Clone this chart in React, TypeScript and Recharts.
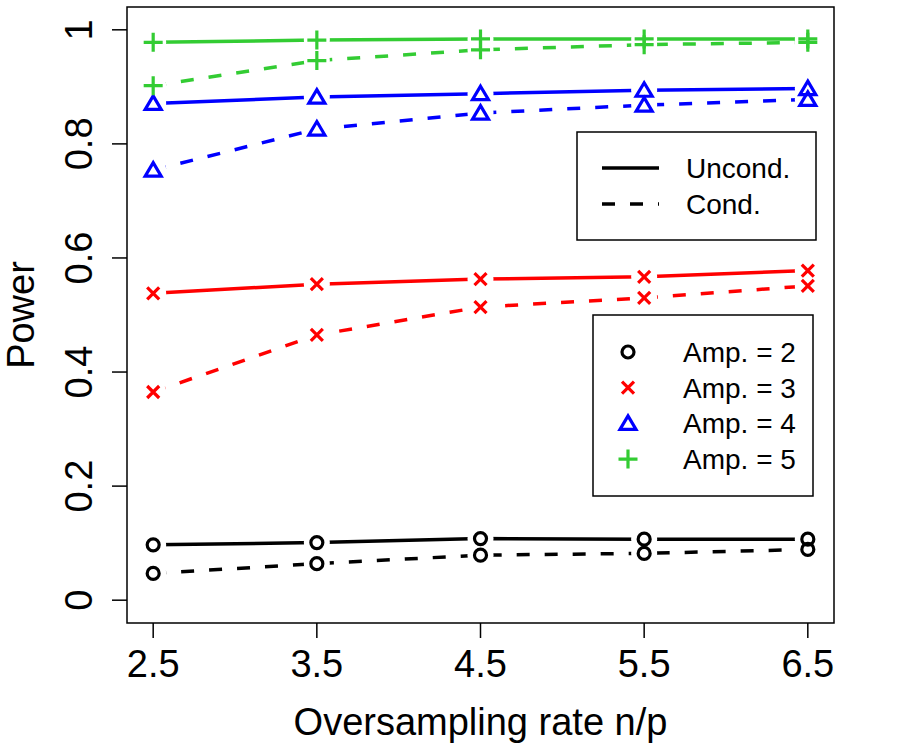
import { LineChart, Line, XAxis, YAxis, ReferenceArea, Label } from "recharts";

// oversampling rates n/p
const rates = [2.5, 3.5, 4.5, 5.5, 6.5];

// power by amplitude, unconditional and conditional tests
const uncond2 = [0.097, 0.101, 0.108, 0.107, 0.107];
const cond2 = [0.047, 0.064, 0.079, 0.082, 0.089];
const uncond3 = [0.538, 0.554, 0.563, 0.567, 0.578];
const cond3 = [0.365, 0.465, 0.514, 0.53, 0.551];
const uncond4 = [0.871, 0.882, 0.888, 0.894, 0.897];
const cond4 = [0.754, 0.826, 0.854, 0.868, 0.878];
const uncond5 = [0.978, 0.982, 0.984, 0.984, 0.984];
const cond5 = [0.902, 0.946, 0.965, 0.974, 0.978];

const yTicks = [0, 0.2, 0.4, 0.6, 0.8, 1];
const ampLabels = ["Amp. = 2", "Amp. = 3", "Amp. = 4", "Amp. = 5"];
const typeLabels = ["Uncond.", "Cond."];

const data = rates.map((rate, i) => ({
  rate,
  u2: uncond2[i],
  c2: cond2[i],
  u3: uncond3[i],
  c3: cond3[i],
  u4: uncond4[i],
  c4: cond4[i],
  u5: uncond5[i],
  c5: cond5[i],
}));

const FONT = "'Liberation Sans', Arial, Helvetica, sans-serif";
const GREEN = "#33CC33";
const COLORS = ["#000000", "#FF0000", "#0000FF", GREEN];
const MARKERS = ["circle", "cross", "triangle", "plus"];
const DASH = "13 15";
const LW = 3.5;

const series = [
  { key: "u2", amp: 0, dashed: false },
  { key: "c2", amp: 0, dashed: true },
  { key: "u3", amp: 1, dashed: false },
  { key: "c3", amp: 1, dashed: true },
  { key: "u4", amp: 2, dashed: false },
  { key: "c4", amp: 2, dashed: true },
  { key: "u5", amp: 3, dashed: false },
  { key: "c5", amp: 3, dashed: true },
];

function Marker({ kind, cx, cy, color }: { kind: string; cx: number; cy: number; color: string }) {
  const sw = 3.2;
  if (kind === "circle") {
    return <circle cx={cx} cy={cy} r={6} fill="none" stroke={color} strokeWidth={sw} />;
  }
  if (kind === "cross") {
    const d = 6;
    return (
      <path
        d={`M${cx - d},${cy - d}L${cx + d},${cy + d}M${cx - d},${cy + d}L${cx + d},${cy - d}`}
        stroke={color}
        strokeWidth={sw}
        fill="none"
      />
    );
  }
  if (kind === "triangle") {
    return (
      <path
        d={`M${cx},${cy - 7.5}L${cx + 8},${cy + 6}L${cx - 8},${cy + 6}Z`}
        stroke={color}
        strokeWidth={sw}
        fill="none"
      />
    );
  }
  const d = 9.5;
  return (
    <path
      d={`M${cx - d},${cy}L${cx + d},${cy}M${cx},${cy - d}L${cx},${cy + d}`}
      stroke={color}
      strokeWidth={sw}
      fill="none"
    />
  );
}

// white patch that opens a gap in the line around each point (type="b" look)
const haloDot = (props: any) => (
  <circle key={`h-${props.index}`} cx={props.cx} cy={props.cy} r={13} fill="#fff" stroke="none" />
);

const markerDot = (kind: string, color: string) => (props: any) => (
  <g key={`m-${props.index}`}>
    <Marker kind={kind} cx={props.cx} cy={props.cy} color={color} />
  </g>
);

const XTick = ({ x, y, payload }: any) => (
  <text x={x} y={y + 37} textAnchor="middle" fontSize={38} fontFamily={FONT} fill="#000">
    {payload.value}
  </text>
);

const YTick = ({ x, y, payload }: any) => {
  const tx = x - 18;
  return (
    <text
      x={tx}
      y={y}
      transform={`rotate(-90 ${tx} ${y})`}
      textAnchor="middle"
      fontSize={38}
      fontFamily={FONT}
      fill="#000"
    >
      {payload.value}
    </text>
  );
};

function Legends() {
  return (
    <svg
      width={900}
      height={750}
      style={{ position: "absolute", left: 0, top: 0, pointerEvents: "none" }}
    >
      <g fontFamily={FONT} fontSize={28} fill="#000">
        <rect x={577} y={132} width={239} height={108} fill="#fff" stroke="#000" strokeWidth={1.5} />
        {typeLabels.map((t, i) => (
          <g key={t}>
            <line
              x1={602}
              x2={659}
              y1={168 + i * 36}
              y2={168 + i * 36}
              stroke="#000"
              strokeWidth={LW}
              strokeDasharray={i === 1 ? DASH : undefined}
            />
            <text x={686} y={178 + i * 36}>
              {t}
            </text>
          </g>
        ))}
        <rect x={593} y={315} width={220} height={181} fill="#fff" stroke="#000" strokeWidth={1.5} />
        {ampLabels.map((t, i) => (
          <g key={t}>
            <Marker kind={MARKERS[i]} cx={628} cy={352 + i * 35.7} color={COLORS[i]} />
            <text x={683} y={362 + i * 35.7}>
              {t}
            </text>
          </g>
        ))}
      </g>
    </svg>
  );
}

export default function App() {
  return (
    <div style={{ position: "absolute", left: 0, top: 0, width: 900, height: 750, background: "#fff" }}>
      <LineChart
        width={900}
        height={750}
        data={data}
        margin={{ top: 7, right: 66, left: 0, bottom: 0 }}
      >
        <XAxis
          dataKey="rate"
          type="number"
          domain={[2.34, 6.66]}
          ticks={rates}
          allowDataOverflow
          axisLine={false}
          tickLine={{ stroke: "#000", strokeWidth: 1.5 }}
          tickSize={15}
          tick={<XTick />}
          height={127}
        >
          <Label
            content={({ viewBox }: any) => (
              <text
                x={viewBox.x + viewBox.width / 2}
                y={735}
                textAnchor="middle"
                fontSize={38}
                fontFamily={FONT}
                fill="#000"
              >
                Oversampling rate n/p
              </text>
            )}
          />
        </XAxis>
        <YAxis
          type="number"
          domain={[-0.04, 1.04]}
          ticks={yTicks}
          allowDataOverflow
          axisLine={false}
          tickLine={{ stroke: "#000", strokeWidth: 1.5 }}
          tickSize={15}
          tick={<YTick />}
          width={127}
        >
          <Label
            content={({ viewBox }: any) => {
              const cy = viewBox.y + viewBox.height / 2;
              return (
                <text
                  x={34}
                  y={cy}
                  transform={`rotate(-90 34 ${cy})`}
                  textAnchor="middle"
                  fontSize={38}
                  fontFamily={FONT}
                  fill="#000"
                >
                  Power
                </text>
              );
            }}
          />
        </YAxis>
        <ReferenceArea
          x1={2.34}
          x2={6.66}
          y1={-0.04}
          y2={1.04}
          fill="none"
          stroke="#000"
          strokeWidth={1.5}
          ifOverflow="visible"
        />
        {series.map((s) => (
          <Line
            key={`line-${s.key}`}
            dataKey={s.key}
            stroke={COLORS[s.amp]}
            strokeWidth={LW}
            strokeDasharray={s.dashed ? DASH : undefined}
            dot={haloDot}
            activeDot={false}
            isAnimationActive={false}
          />
        ))}
        {series.map((s) => (
          <Line
            key={`pts-${s.key}`}
            dataKey={s.key}
            stroke="none"
            strokeWidth={0}
            dot={markerDot(MARKERS[s.amp], COLORS[s.amp])}
            activeDot={false}
            isAnimationActive={false}
          />
        ))}
      </LineChart>
      <Legends />
    </div>
  );
}
